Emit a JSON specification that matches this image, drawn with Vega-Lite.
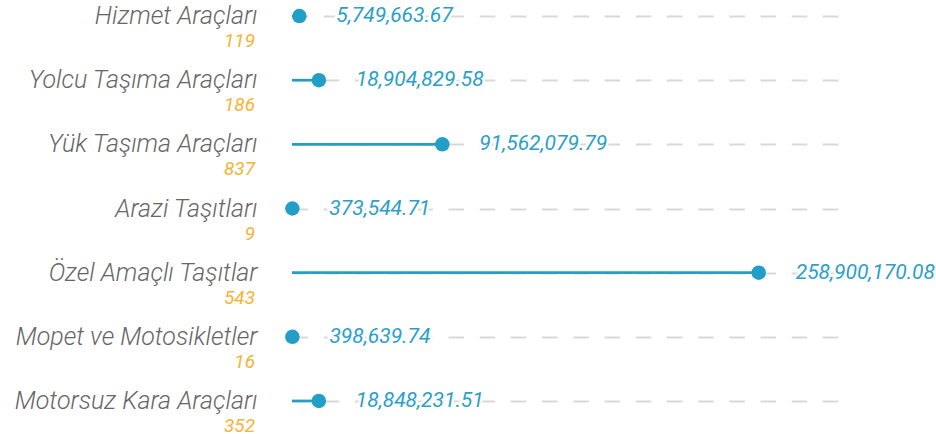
{
  "$schema": "https://vega.github.io/schema/vega-lite/v6.json",
  "width": 548,
  "height": 417,
  "autosize": {"type": "none"},
  "padding": {"left": 292, "top": 0, "right": 96, "bottom": 17},
  "background": "white",
  "config": {"view": {"stroke": null}},
  "data": {
    "values": [
      {"kategori": "Hizmet Araçları", "adet": 119, "tutar": 5749663.67},
      {"kategori": "Yolcu Taşıma Araçları", "adet": 186, "tutar": 18904829.58},
      {"kategori": "Yük Taşıma Araçları", "adet": 837, "tutar": 91562079.79},
      {"kategori": "Arazi Taşıtları", "adet": 9, "tutar": 373544.71},
      {"kategori": "Özel Amaçlı Taşıtlar", "adet": 543, "tutar": 258900170.08},
      {"kategori": "Mopet ve Motosikletler", "adet": 16, "tutar": 398639.74},
      {"kategori": "Motorsuz Kara Araçları", "adet": 352, "tutar": 18848231.51}
    ]
  },
  "encoding": {
    "y": {
      "field": "kategori",
      "type": "nominal",
      "sort": null,
      "scale": {"type": "point", "padding": 0.25},
      "axis": {
        "title": null,
        "domain": false,
        "ticks": false,
        "labelPadding": 35,
        "labelLimit": 0,
        "labelFont": "Roboto",
        "labelFontStyle": "italic",
        "labelFontWeight": 300,
        "labelFontSize": 25,
        "labelColor": "#666666",
        "labelBaseline": "alphabetic",
        "labelOffset": 7.5,
        "grid": true,
        "gridColor": "#d9d9d9",
        "gridWidth": 2,
        "gridDash": [15.6, 15.6]
      }
    }
  },
  "layer": [
    {
      "mark": {"type": "rule", "color": "#239fc7", "strokeWidth": 2.7},
      "encoding": {
        "x": {"field": "tutar", "type": "quantitative", "scale": {"type": "pow", "exponent": 1.09, "domain": [0, 300000000]}, "axis": null},
        "x2": {"datum": 0}
      }
    },
    {
      "mark": {"type": "circle", "color": "#239fc7", "opacity": 1, "size": 210},
      "encoding": {
        "x": {"field": "tutar", "type": "quantitative"}
      }
    },
    {
      "mark": {"type": "text", "align": "left", "baseline": "middle", "dx": 37, "font": "Roboto", "fontStyle": "italic", "fontSize": 21, "fill": "white", "stroke": "white", "strokeWidth": 5},
      "encoding": {
        "x": {"field": "tutar", "type": "quantitative"},
        "text": {"field": "tutar", "type": "quantitative", "format": ",.2f"}
      }
    },
    {
      "mark": {"type": "text", "align": "left", "baseline": "middle", "dx": 37, "font": "Roboto", "fontStyle": "italic", "fontSize": 21, "color": "#2aa0c9"},
      "encoding": {
        "x": {"field": "tutar", "type": "quantitative"},
        "text": {"field": "tutar", "type": "quantitative", "format": ",.2f"}
      }
    },
    {
      "mark": {"type": "text", "align": "right", "baseline": "alphabetic", "dx": -37, "dy": 31, "font": "Roboto", "fontStyle": "italic", "fontSize": 19, "color": "#f8b334"},
      "encoding": {
        "x": {"datum": 0, "type": "quantitative"},
        "text": {"field": "adet", "type": "quantitative"}
      }
    }
  ]
}
